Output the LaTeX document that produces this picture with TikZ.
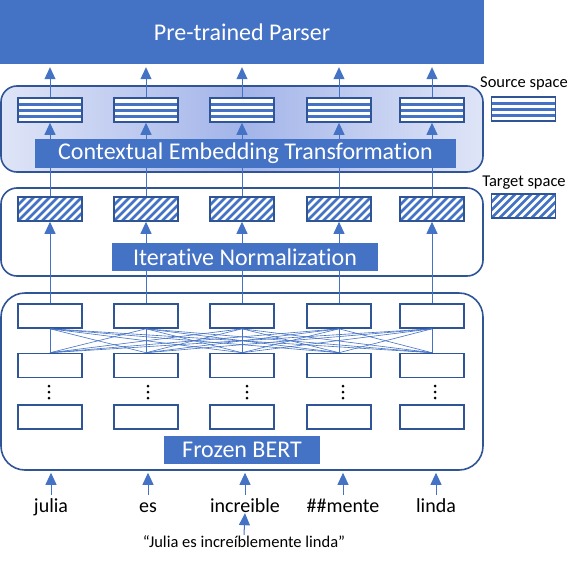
\documentclass[tikz,border=0pt]{standalone}
\usepackage{fontspec}
\setmainfont{Carlito}[Ligatures={NoCommon}]
\usetikzlibrary{arrows.meta}
\definecolor{officeblue}{HTML}{4472C4}
\definecolor{darkframe}{HTML}{2F5597}
\definecolor{shadeside}{HTML}{DFE5F7}
\definecolor{shademid}{HTML}{A3B4E9}

\begin{document}
\begin{tikzpicture}[x=1pt,y=-1pt,>={Triangle[length=12pt,width=11pt]},line cap=butt,
  block/.style={draw=darkframe,line width=1.6pt,rounded corners=16pt,minimum width=482pt,inner sep=0pt},
  banner/.style={fill=officeblue,text=white,font=\fontsize{24}{28}\selectfont,inner sep=0pt},
  cell/.style={draw=darkframe,line width=1.6pt,fill=white,minimum width=64pt,minimum height=24pt,inner sep=0pt},
  stripecell/.style={cell,path picture={
    \foreach \d in {-6,0,6}
      \draw[officeblue,line width=3pt] ([xshift=-40pt,yshift=\d pt]path picture bounding box.center) -- ++(80pt,0pt);}},
  hatchcell/.style={cell,path picture={
    \foreach \d in {-56,-48,...,48}
      \draw[officeblue,line width=2.6pt] ([xshift=\d pt,yshift=-20pt]path picture bounding box.center) -- ++(40pt,40pt);}},
  arrow/.style={->,officeblue,line width=1pt},
  wire/.style={officeblue,line width=0.6pt},
  word/.style={font=\fontsize{20}{24}\selectfont,anchor=base,text height=15pt,text depth=0pt,inner sep=1pt},
  caption/.style={font=\fontsize{16.5}{19}\selectfont,inner sep=0pt}]
\useasboundingbox (0,0) rectangle (588,562);
% the three blocks and the parser
\node[block,minimum height=86pt,left color=shadeside,right color=shadeside,middle color=shademid] (srcblock) at (242,129) {};
\node[block,minimum height=88pt,fill=white] (tgtblock) at (242,232) {};
\node[block,minimum height=177pt,rounded corners=24pt,fill=white] (bert) at (242,381.5) {};
\node[fill=officeblue,text=white,font=\fontsize{24}{28}\selectfont,minimum width=484pt,minimum height=64pt,inner sep=0pt] (parser) at (242,32) {Pre-trained Parser};
% one column per token
\foreach \i/\x in {1/50,2/146,3/242,4/339,5/432} {
  \node[stripecell] (src\i) at (\x,110) {};
  \node[hatchcell] (tgt\i) at (\x,209) {};
  \node[cell] (ba\i) at (\x,316) {};
  \node[cell] (bb\i) at (\x,365.5) {};
  \node[cell] (bc\i) at (\x,417) {};
}
\foreach \i in {1,...,5} {
  \draw[arrow,shorten >=3pt] (src\i.north) -- (src\i.north |- parser.south);
  \draw[arrow] (tgt\i.north) -- (src\i.south);
  \draw[arrow] (ba\i.north) -- (tgt\i.south);
  \foreach \j in {1,...,5}
    \draw[wire] (ba\i.south) -- (bb\j.north);
}
\foreach \x in {49,148,247,343,435}
  \foreach \y in {386,392,398}
    \fill (\x,\y) circle (1.5pt);
% banners on top of the lines
\node[banner,minimum width=421pt,minimum height=29pt] (cet) at (245.5,153.5) {Contextual Embedding Transformation};
\node[banner,minimum width=266pt,minimum height=28pt] (norm) at (245,257) {Iterative Normalization};
\node[banner,minimum width=156pt,minimum height=28pt] (frozen) at (242,450) {Frozen BERT};
% tokens and sentence
\node[word] (w1) at (51,512) {julia};
\node[word] (w2) at (148,512) {es};
\node[word] (w3) at (245,512) {increible};
\node[word] (w4) at (343,512) {\#\#mente};
\node[word] (w5) at (436,512) {linda};
\foreach \i in {1,...,5}
  \draw[arrow,shorten >=2pt,shorten <=1pt] (w\i.north) -- (w\i.north |- bert.south);
\node[caption,anchor=base,text height=11pt,inner sep=1pt] (sentence) at (244,547) {“Julia es increíblemente linda”};
\draw[arrow] (sentence.north) -- (w3.south);
% legend
\node[caption] (srcname) at (524,83) {Source space};
\node[stripecell] (srclegend) at (523.5,109) {};
\node[caption] (tgtname) at (524,183) {Target space};
\node[hatchcell] (tgtlegend) at (523.5,206) {};
\end{tikzpicture}
\end{document}
